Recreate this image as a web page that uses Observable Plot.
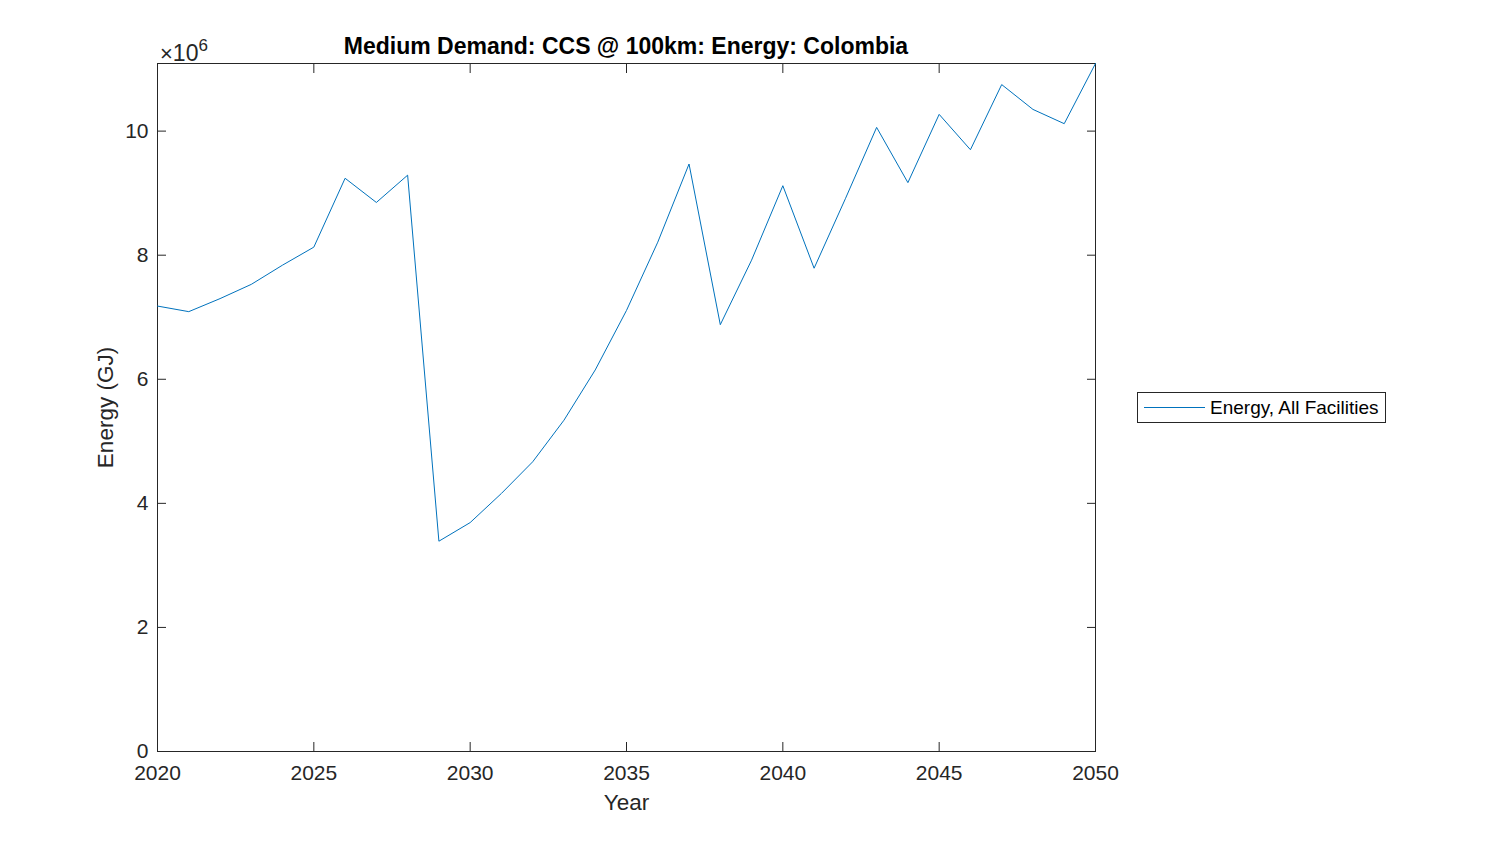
<!DOCTYPE html>
<html>
<head>
<meta charset="utf-8">
<script src="https://cdn.jsdelivr.net/npm/d3@7"></script>
<script src="https://cdn.jsdelivr.net/npm/@observablehq/plot@0.6"></script>
<style>
  html, body { margin: 0; padding: 0; background: #fff; }
  #wrap { position: relative; width: 1500px; height: 844px; font-family: "Liberation Sans", Arial, sans-serif; color: #262626; }
  #title { position: absolute; left: 157px; width: 938px; top: 33px; line-height: 26px; text-align: center; font-weight: bold; font-size: 23px; color: #000; }
  #expo { position: absolute; left: 160px; top: 35px; line-height: 24px; font-size: 23px; color: #262626; }
  #expo .x { font-size: 22px; font-weight: 300; }
  #expo sup { font-size: 17px; position: relative; top: -1px; }
  #legend { position: absolute; left: 1137px; top: 392px; width: 249px; height: 31px; border: 1px solid #262626; background: #fff; box-sizing: border-box; }
  #legend .sw { position: absolute; left: 6px; top: 14px; width: 61px; height: 0; border-top: 1px solid #0072BD; }
  #legend .lb { position: absolute; left: 72px; top: 4px; font-size: 19px; color: #000; white-space: nowrap; }
</style>
</head>
<body>
<div id="wrap">
  <div id="chart"></div>
  <div id="title">Medium Demand: CCS @ 100km: Energy: Colombia</div>
  <div id="expo"><span class="x">×</span>10<sup>6</sup></div>
  <div id="legend"><div class="sw"></div><div class="lb">Energy, All Facilities</div></div>
</div>
<script>
const years = d3.range(2020, 2051);
const energy = [7.18, 7.09, 7.30, 7.53, 7.84, 8.13, 9.24, 8.85, 9.29, 3.39,
                3.69, 4.16, 4.67, 5.34, 6.15, 7.11, 8.21, 9.47, 6.88, 7.92,
                9.12, 7.79, 8.91, 10.06, 9.17, 10.27, 9.70, 10.75, 10.35, 10.12, 11.09].map(v => v * 1e6);
const xTicks = [2020, 2025, 2030, 2035, 2040, 2045, 2050];
const yTicks = [0, 2, 4, 6, 8, 10].map(v => v * 1e6);
const seriesName = "Energy, All Facilities";

const data = years.map((y, i) => ({year: y, value: energy[i]}));
const axisColor = "#262626";

const chart = Plot.plot({
  width: 1500,
  height: 844,
  marginLeft: 157,
  marginRight: 405,
  marginTop: 63,
  marginBottom: 93,
  style: {fontFamily: "Liberation Sans, Arial, sans-serif", fontSize: "21px", color: axisColor, background: "#fff"},
  x: {domain: [2020, 2050]},
  y: {domain: [0, 11.09e6]},
  marks: [
    Plot.frame({stroke: axisColor, strokeWidth: 1}),
    Plot.axisX(xTicks, {anchor: "bottom", tickSize: -9, tickPadding: 23, tickFormat: d => String(d), stroke: axisColor, fill: axisColor, fontSize: 21, label: null}),
    Plot.axisX(xTicks, {anchor: "top", tickSize: -9, text: null, stroke: axisColor, label: null}),
    Plot.axisY(yTicks, {anchor: "left", tickSize: -9, tickPadding: 18, tickFormat: d => String(d / 1e6), stroke: axisColor, fill: axisColor, fontSize: 21, label: null}),
    Plot.axisY(yTicks, {anchor: "right", tickSize: -9, text: null, stroke: axisColor, label: null}),
    Plot.line(data, {x: "year", y: "value", stroke: "#0072BD", strokeWidth: 1}),
    Plot.text(["Year"], {frameAnchor: "bottom", dy: 58, fontSize: 22.5, fill: axisColor}),
    Plot.text(["Energy (GJ)"], {frameAnchor: "left", textAnchor: "middle", dx: -52, rotate: -90, fontSize: 22.5, fill: axisColor})
  ]
});
document.getElementById("chart").appendChild(chart);
</script>
</body>
</html>
